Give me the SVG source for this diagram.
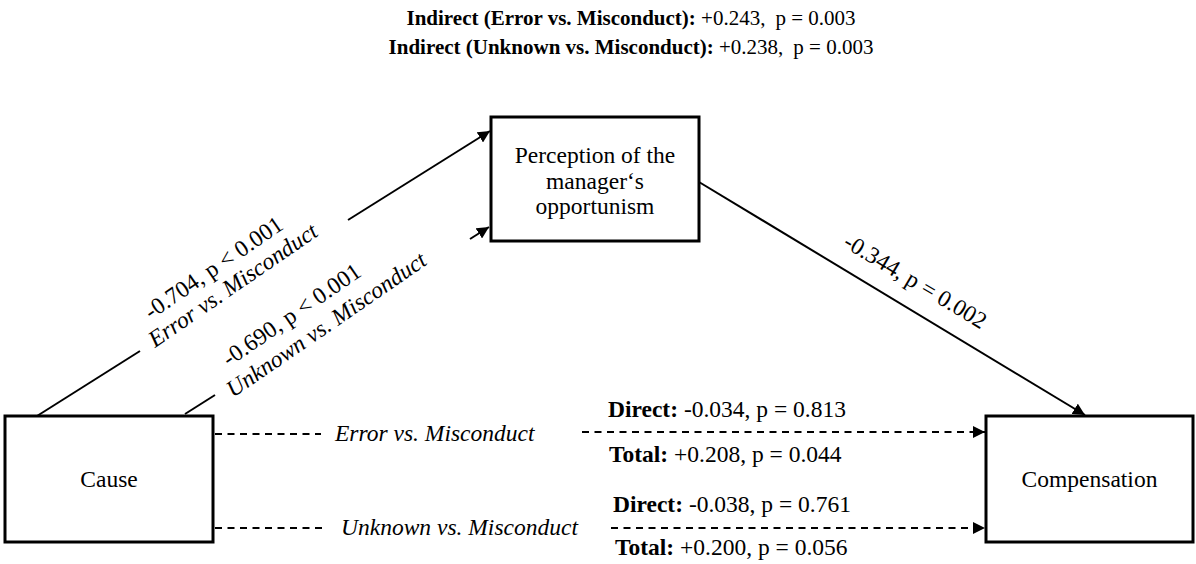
<svg xmlns="http://www.w3.org/2000/svg" width="1196" height="564" viewBox="0 0 1196 564">
  <style>
    text { font-family: "Liberation Serif", "Times New Roman", serif; fill: #000; }
    .t { font-size: 23.5px; }
    .title { font-size: 21px; }
    .b { font-weight: bold; }
    .i { font-style: italic; }
    .node { fill: #fff; stroke: #000; stroke-width: 3; }
    .edge { fill: none; stroke: #000; stroke-width: 2; }
    .dash { fill: none; stroke: #000; stroke-width: 2; stroke-dasharray: 7 5.5; }
  </style>
  <defs>
    <marker id="arrow" viewBox="0 0 10 10" refX="10" refY="5" markerWidth="6" markerHeight="6" markerUnits="strokeWidth" orient="auto">
      <path d="M0,0 L10,5 L0,10 Z" fill="#000"/>
    </marker>
  </defs>
  <rect width="1196" height="564" fill="#fff"/>

  <!-- Indirect effects header -->
  <g id="header">
    <text class="title" x="631" y="25" text-anchor="middle"><tspan class="b">Indirect (Error vs. Misconduct):</tspan> +0.243,<tspan dx="10">p = 0.003</tspan></text>
    <text class="title" x="631" y="54" text-anchor="middle"><tspan class="b">Indirect (Unknown vs. Misconduct):</tspan> +0.238,<tspan dx="10">p = 0.003</tspan></text>
  </g>

  <!-- Connectors -->
  <g id="connectors">
    <!-- Cause -> Perception (Error vs. Misconduct) -->
    <line class="edge" x1="37" y1="416" x2="140" y2="351"/>
    <line class="edge" x1="348" y1="220" x2="490" y2="131" marker-end="url(#arrow)"/>
    <!-- Cause -> Perception (Unknown vs. Misconduct) -->
    <line class="edge" x1="185" y1="414" x2="215" y2="395"/>
    <line class="edge" x1="470" y1="239" x2="489" y2="227" marker-end="url(#arrow)"/>
    <!-- Perception -> Compensation -->
    <line class="edge" x1="699" y1="182" x2="1085" y2="415" marker-end="url(#arrow)"/>
    <!-- Cause -> Compensation, direct paths -->
    <line class="dash" x1="215" y1="434" x2="321" y2="434"/>
    <line class="dash" x1="582" y1="432" x2="985" y2="432" marker-end="url(#arrow)"/>
    <line class="dash" x1="215" y1="528" x2="326" y2="528"/>
    <line class="dash" x1="611" y1="528" x2="985" y2="528" marker-end="url(#arrow)"/>

    <!-- path labels -->
    <text class="t" transform="translate(151,320) rotate(-34.5)">-0.704, p &lt; 0.001</text>
    <text class="t i" transform="translate(155,348) rotate(-34.5)">Error vs. Misconduct</text>
    <text class="t" transform="translate(229,367) rotate(-34.5)">-0.690, p &lt; 0.001</text>
    <text class="t i" transform="translate(233,398) rotate(-34.5)">Unknown vs. Misconduct</text>
    <text class="t" transform="translate(842,246) rotate(31)">-0.344, p = 0.002</text>

    <text class="t i" x="335" y="441">Error vs. Misconduct</text>
    <text class="t i" x="341" y="535">Unknown vs. Misconduct</text>

    <text class="t" x="608" y="417"><tspan class="b">Direct:</tspan> -0.034, p = 0.813</text>
    <text class="t" x="609" y="462"><tspan class="b">Total:</tspan> +0.208, p = 0.044</text>
    <text class="t" x="613" y="512"><tspan class="b">Direct:</tspan> -0.038, p = 0.761</text>
    <text class="t" x="615" y="555"><tspan class="b">Total:</tspan> +0.200, p = 0.056</text>
  </g>

  <!-- Nodes -->
  <g id="node-perception">
    <rect class="node" x="491" y="117" width="208" height="124"/>
    <text class="t" x="595" y="163" text-anchor="middle">Perception of the</text>
    <text class="t" x="595" y="189" text-anchor="middle">manager‘s</text>
    <text class="t" x="595" y="214" text-anchor="middle">opportunism</text>
  </g>
  <g id="node-cause">
    <rect class="node" x="5" y="416" width="208" height="126"/>
    <text class="t" x="109" y="487" text-anchor="middle">Cause</text>
  </g>
  <g id="node-compensation">
    <rect class="node" x="986" y="416" width="207" height="126"/>
    <text class="t" x="1089.5" y="487" text-anchor="middle">Compensation</text>
  </g>
</svg>
